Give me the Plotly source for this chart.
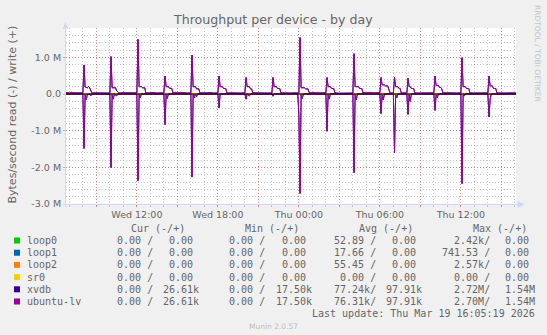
import pandas as pd
import plotly.graph_objects as go

# ---------------------------------------------------------------------------
# Data: minutes after Wed 2026-03-18 00:00, rates in MB/s (M) or bytes/s (B)
# ---------------------------------------------------------------------------
write_min = [
    400, 410, 420, 430, 440, 455, 465, 480,
    485, 490, 500, 505, 510, 515, 520, 530, 545, 560, 575, 590, 600,
    605, 610, 625, 630, 640, 650, 660, 670, 690, 705, 720,
    725, 730, 740, 745, 755, 760, 775, 790, 805, 820, 840,
    845, 850, 860, 865, 875, 880, 890, 900, 915, 930, 945, 960,
    965, 970, 980, 985, 995, 1000, 1015, 1030, 1045, 1060, 1080,
    1085, 1090, 1100, 1105, 1115, 1120, 1135, 1150, 1165, 1180, 1200,
    1205, 1210, 1220, 1225, 1230, 1235, 1250, 1265, 1280, 1300, 1320,
    1325, 1330, 1340, 1345, 1355, 1360, 1375, 1390, 1405, 1425, 1440,
    1445, 1450, 1465, 1470, 1480, 1485, 1495, 1505, 1515, 1530, 1545, 1560,
    1565, 1570, 1580, 1585, 1595, 1600, 1615, 1630, 1645, 1665, 1680,
    1685, 1690, 1705, 1710, 1720, 1725, 1740, 1755, 1770, 1785, 1800,
    1805, 1810, 1820, 1825, 1835, 1840, 1845, 1855, 1860,
    1865, 1870, 1880, 1885, 1890, 1895, 1905, 1915, 1920,
    1925, 1930, 1935, 1940, 1950, 1955, 1965, 1980, 1995, 2010, 2025, 2040,
    2045, 2050, 2060, 2065, 2070, 2075, 2080, 2090, 2100, 2110, 2120, 2140, 2160,
    2165, 2170, 2180, 2185, 2195, 2200, 2215, 2230, 2250, 2270, 2280,
    2285, 2290, 2300, 2305, 2315, 2320, 2335, 2350, 2365, 2380, 2395, 2405,
]
ulv_write_M = [
    0.030, 0.040, 0.025, 0.045, 0.030, 0.025, 0.040, 0.030,
    0.79, 0.19, 0.17, 0.20, 0.17, 0.09, 0.025, 0.030, 0.025, 0.035, 0.030, 0.025, 0.030,
    1.02, 0.17, 0.17, 0.09, 0.030, 0.025, 0.045, 0.030, 0.025, 0.030, 0.030,
    1.49, 0.20, 0.20, 0.17, 0.17, 0.025, 0.030, 0.040, 0.025, 0.035, 0.030,
    0.49, 0.20, 0.20, 0.155, 0.155, 0.030, 0.045, 0.030, 0.045, 0.030, 0.025, 0.030,
    1.06, 0.20, 0.20, 0.14, 0.14, 0.030, 0.025, 0.030, 0.040, 0.025, 0.030,
    0.49, 0.20, 0.20, 0.15, 0.15, 0.030, 0.025, 0.035, 0.030, 0.025, 0.030,
    0.45, 0.20, 0.20, 0.14, 0.14, 0.030, 0.025, 0.0175, 0.030, 0.025, 0.025,
    0.45, 0.20, 0.20, 0.15, 0.15, 0.030, 0.025, 0.030, 0.025, 0.030, 0.030,
    1.54, 0.17, 0.17, 0.14, 0.14, 0.040, 0.030, 0.045, 0.030, 0.025, 0.030, 0.030,
    0.45, 0.20, 0.20, 0.15, 0.15, 0.030, 0.020, 0.025, 0.020, 0.025, 0.025,
    1.10, 0.20, 0.20, 0.15, 0.15, 0.030, 0.035, 0.045, 0.030, 0.040, 0.035,
    0.45, 0.25, 0.25, 0.22, 0.22, 0.15, 0.030, 0.030, 0.030,
    0.45, 0.20, 0.20, 0.15, 0.15, 0.030, 0.030, 0.025, 0.030,
    0.43, 0.20, 0.20, 0.15, 0.15, 0.030, 0.025, 0.030, 0.025, 0.030, 0.025, 0.030,
    0.49, 0.23, 0.23, 0.18, 0.18, 0.14, 0.030, 0.030, 0.050, 0.050, 0.030, 0.025, 0.030,
    0.99, 0.20, 0.20, 0.15, 0.15, 0.030, 0.025, 0.030, 0.025, 0.030, 0.030,
    0.49, 0.22, 0.22, 0.15, 0.15, 0.030, 0.025, 0.035, 0.025, 0.030, 0.025, 0.02661,
]
# the LV sits on xvdb, so both carry the same writes
xvdb_write_M = list(ulv_write_M)

read_min = [
    400, 480, 485, 490, 495, 500, 510, 515, 520,
    600, 605, 610, 615, 620, 630, 635,
    720, 725, 730, 735, 740,
    840, 845, 850, 855, 860,
    960, 965, 970, 975, 980, 985, 990,
    1080, 1085, 1090,
    1200, 1205, 1210, 1220, 1225,
    1320, 1325, 1330,
    1435, 1440, 1445, 1450, 1455, 1460,
    1560, 1565, 1570, 1575, 1580,
    1680, 1685, 1690, 1695, 1700,
    1800, 1805, 1810, 1815, 1820,
    1860, 1865, 1870, 1875, 1880,
    1920, 1925, 1930, 1935, 1940,
    2040, 2045, 2050, 2055, 2060,
    2160, 2165, 2170, 2175, 2180,
    2280, 2285, 2290, 2295, 2405,
]
ulv_read_M = [
    0.0, 0.0, 1.48, 0.02, 0.15, 0.01, 0.0, 0.05, 0.0,
    0.0, 2.00, 0.02, 0.14, 0.0, 0.05, 0.0,
    0.0, 2.35, 0.02, 0.10, 0.0,
    0.0, 0.83, 0.02, 0.12, 0.0,
    0.0, 2.25, 0.02, 0.10, 0.0, 0.07, 0.0,
    0.0, 0.37, 0.0,
    0.0, 0.14, 0.0, 0.05, 0.0,
    0.0, 0.06, 0.0,
    0.0, 0.55, 2.70, 0.02, 0.12, 0.0,
    0.0, 1.01, 0.02, 0.14, 0.0,
    0.0, 2.13, 0.02, 0.16, 0.0,
    0.0, 0.53, 0.02, 0.16, 0.0,
    0.0, 1.59, 0.02, 0.10, 0.0,
    0.0, 0.55, 0.02, 0.20, 0.0,
    0.0, 0.44, 0.02, 0.10, 0.0,
    0.0, 2.43, 0.02, 0.05, 0.0,
    0.0, 0.62, 0.14, 0.0, 0.0,
]
xvdb_read_M = [
    0.0, 0.0, 1.49, 0.02, 0.15, 0.01, 0.0, 0.05, 0.0,
    0.0, 2.01, 0.02, 0.14, 0.0, 0.05, 0.0,
    0.0, 2.37, 0.02, 0.10, 0.0,
    0.0, 0.84, 0.02, 0.12, 0.0,
    0.0, 2.27, 0.02, 0.10, 0.0, 0.07, 0.0,
    0.0, 0.38, 0.0,
    0.0, 0.14, 0.0, 0.05, 0.0,
    0.0, 0.06, 0.0,
    0.0, 0.56, 2.72, 0.02, 0.12, 0.0,
    0.0, 1.02, 0.02, 0.14, 0.0,
    0.0, 2.15, 0.02, 0.16, 0.0,
    0.0, 0.54, 0.02, 0.16, 0.0,
    0.0, 1.60, 0.02, 0.10, 0.0,
    0.0, 0.56, 0.02, 0.20, 0.0,
    0.0, 0.45, 0.02, 0.10, 0.0,
    0.0, 2.45, 0.02, 0.05, 0.0,
    0.0, 0.63, 0.14, 0.0, 0.0,
]

# loop and optical devices barely move
loop0_read_min = [400, 1440, 1445, 1450, 1925, 1930, 1935, 2405]
loop0_read_B = [0, 0, 2420, 0, 0, 1800, 0, 0]
loop1_read_min = [400, 1445, 1450, 1455, 2405]
loop1_read_B = [0, 0, 741.53, 0, 0]
loop2_read_min = [400, 1445, 1450, 1455, 2405]
loop2_read_B = [0, 0, 2570, 0, 0]
idle_min = [400, 2405]
idle_B = [0, 0]

devices = ["loop0", "loop1", "loop2", "sr0", "xvdb", "ubuntu-lv"]
colors = ["#00CC00", "#0066B3", "#FF8000", "#FFCC00", "#330099", "#990099"]
cur_col = ["  0.00 /", "  0.00 /", "  0.00 /", "  0.00 /", "  0.00 /", "  0.00 /"]
cur_col2 = ["  0.00", "  0.00", "  0.00", "  0.00", " 26.61k", " 26.61k"]
min_col = ["  0.00 /", "  0.00 /", "  0.00 /", "  0.00 /", "  0.00 /", "  0.00 /"]
min_col2 = ["  0.00", "  0.00", "  0.00", "  0.00", " 17.50k", " 17.50k"]
avg_col = [" 52.89 /", " 17.66 /", " 55.45 /", "  0.00 /", " 77.24k/", " 76.31k/"]
avg_col2 = ["  0.00", "  0.00", "  0.00", "  0.00", " 97.91k", " 97.91k"]
max_col = ["  2.42k/", "741.53 /", "  2.57k/", "  0.00 /", "  2.72M/", "  2.70M/"]
max_col2 = ["  0.00", "  0.00", "  0.00", "  0.00", "  1.54M", "  1.54M"]

tick_times = ["2026-03-18 09:00", "2026-03-18 12:00", "2026-03-18 15:00",
              "2026-03-18 18:00", "2026-03-18 21:00", "2026-03-19 00:00",
              "2026-03-19 03:00", "2026-03-19 06:00", "2026-03-19 09:00",
              "2026-03-19 12:00", "2026-03-19 15:00"]
tick_labels = ["", "Wed 12:00", "", "Wed 18:00", "", "Thu 00:00",
               "", "Thu 06:00", "", "Thu 12:00", ""]
y_tick_vals_M = [-3, -2, -1, 0, 1]
y_tick_labels = ["-3.0 M", "-2.0 M", "-1.0 M", "0.0", "1.0 M"]

# ---------------------------------------------------------------------------
# Geometry (pixels)
# ---------------------------------------------------------------------------
W, H = 547, 335
L, R, T, B = 66, 516, 28, 204
PW, PH = R - L, B - T

BASE = pd.Timestamp("2026-03-18 00:00")


def when(minutes):
    return [BASE + pd.Timedelta(minutes=m) for m in minutes]


def px(x):
    return (x - L) / PW


def py(y):
    return (B - y) / PH


FONT = "DejaVu Sans"
MONO = "DejaVu Sans Mono"
FONT_COL = "#666666"
AXIS_COL = "#CFD6F8"
MGRID = "rgba(222,80,80,0.55)"
GRID = "rgba(143,143,143,0.5)"

fig = go.Figure()


def add_pair(name, color, rmin, rvals, wmin, wvals):
    # reads are drawn below zero, writes above
    fig.add_trace(go.Scatter(x=when(rmin), y=[-v for v in rvals], mode="lines",
                             line=dict(color=color, width=1), name=name,
                             hoverinfo="skip"))
    fig.add_trace(go.Scatter(x=when(wmin), y=list(wvals), mode="lines",
                             line=dict(color=color, width=1), name=name,
                             hoverinfo="skip"))


add_pair("loop0", colors[0], loop0_read_min, loop0_read_B, idle_min, idle_B)
add_pair("loop1", colors[1], loop1_read_min, loop1_read_B, idle_min, idle_B)
add_pair("loop2", colors[2], loop2_read_min, loop2_read_B, idle_min, idle_B)
add_pair("sr0", colors[3], idle_min, idle_B, idle_min, idle_B)
add_pair("xvdb", colors[4], read_min, [v * 1e6 for v in xvdb_read_M],
         write_min, [v * 1e6 for v in xvdb_write_M])
add_pair("ubuntu-lv", colors[5], read_min, [v * 1e6 for v in ulv_read_M],
         write_min, [v * 1e6 for v in ulv_write_M])

fig.update_layout(
    width=W, height=H,
    margin=dict(l=L, r=W - R, t=T, b=H - B, pad=0),
    paper_bgcolor="#F0F0F0", plot_bgcolor="#FFFFFF",
    showlegend=False,
    font=dict(family=FONT, color=FONT_COL, size=10),
)

fig.update_xaxes(
    type="date",
    range=["2026-03-18 06:45", "2026-03-19 16:05"],
    tickmode="array", tickvals=tick_times, ticktext=tick_labels,
    tickfont=dict(family=FONT, size=9.5, color=FONT_COL),
    showgrid=True, gridcolor=MGRID, griddash="1px,2px", gridwidth=1,
    ticks="outside", ticklen=2, tickcolor=MGRID,
    minor=dict(tick0="2026-03-18 00:00", dtick=3600000, showgrid=True,
               gridcolor=GRID, griddash="1px,2px", gridwidth=1,
               ticks="outside", ticklen=2, tickcolor=GRID),
    showline=False, zeroline=False, fixedrange=True,
)
fig.update_yaxes(
    range=[-3.0e6, 1.8e6],
    tickmode="array", tickvals=[v * 1e6 for v in y_tick_vals_M], ticktext=y_tick_labels,
    tickfont=dict(family=FONT, size=9.5, color=FONT_COL),
    showgrid=True, gridcolor=MGRID, griddash="1px,2px", gridwidth=1,
    ticks="outside", ticklen=2, tickcolor=MGRID,
    minor=dict(tick0=0, dtick=0.2e6, showgrid=True,
               gridcolor=GRID, griddash="1px,2px", gridwidth=1),
    showline=False, zeroline=False, fixedrange=True,
)

shapes = []
# zero rule
shapes.append(dict(type="line", xref="paper", yref="y", x0=0, x1=1, y0=0, y1=0,
                   line=dict(color="#000000", width=1), layer="above"))
# axes with arrow heads
shapes.append(dict(type="line", xref="paper", yref="paper",
                   x0=px(63), x1=px(519), y0=py(204.5), y1=py(204.5),
                   line=dict(color=AXIS_COL, width=1), layer="above"))
shapes.append(dict(type="line", xref="paper", yref="paper",
                   x0=px(65.5), x1=px(65.5), y0=py(207), y1=py(26),
                   line=dict(color=AXIS_COL, width=1), layer="above"))
shapes.append(dict(type="path", xref="paper", yref="paper",
                   path=f"M {px(63)},{py(28.5)} L {px(65.5)},{py(22.5)} L {px(68)},{py(28.5)} Z",
                   fillcolor=AXIS_COL, line=dict(color=AXIS_COL, width=0.5), layer="above"))
shapes.append(dict(type="path", xref="paper", yref="paper",
                   path=f"M {px(518)},{py(201.5)} L {px(524)},{py(204.5)} L {px(518)},{py(207.5)} Z",
                   fillcolor=AXIS_COL, line=dict(color=AXIS_COL, width=0.5), layer="above"))

annotations = []


def text(x, y, s, size, color=FONT_COL, family=FONT, anchor="left", angle=0):
    annotations.append(dict(
        x=px(x), y=py(y), xref="paper", yref="paper", text=s.replace(" ", "\u00a0"),
        showarrow=False, xanchor=anchor, yanchor="middle", borderpad=0,
        textangle=angle, font=dict(family=family, size=size, color=color)))


text(273, 19.5, "Throughput per device - by day", 12.6, anchor="center")
text(12, 114.5, "Bytes/second read (-) / write (+)", 11, anchor="center", angle=-90)
text(538, 53, "RRDTOOL / TOBI OETIKER", 7.5, color="#C4C4C4", anchor="center", angle=90)

# legend table
ROW0 = 228.3
STEP = 12.2
text(130, ROW0, "Cur (-/+)", 10, family=MONO)
text(244, ROW0, "Min (-/+)", 10, family=MONO)
text(358, ROW0, "Avg (-/+)", 10, family=MONO)
text(472, ROW0, "Max (-/+)", 10, family=MONO)
for i, dev in enumerate(devices):
    yy = ROW0 + STEP * (i + 1)
    shapes.append(dict(type="rect", xref="paper", yref="paper",
                       x0=px(14), x1=px(20), y0=py(yy + 3), y1=py(yy - 3),
                       fillcolor=colors[i], line=dict(width=0), layer="above"))
    text(26, yy, dev, 10, family=MONO)
    text(104, yy, cur_col[i], 10, family=MONO)
    text(156.3, yy, cur_col2[i], 10, family=MONO)
    text(216.2, yy, min_col[i], 10, family=MONO)
    text(268.5, yy, min_col2[i], 10, family=MONO)
    text(326.7, yy, avg_col[i], 10, family=MONO)
    text(379, yy, avg_col2[i], 10, family=MONO)
    text(440.8, yy, max_col[i], 10, family=MONO)
    text(491.5, yy, max_col2[i], 10, family=MONO)

text(311, ROW0 + STEP * 7, "Last update: Thu Mar 19 16:05:19 2026", 10, family=MONO)
text(273, 326, "Munin 2.0.57", 7.5, color="#BDBDBD", anchor="center")

fig.update_layout(shapes=shapes, annotations=annotations)
fig.write_html("out.html")
